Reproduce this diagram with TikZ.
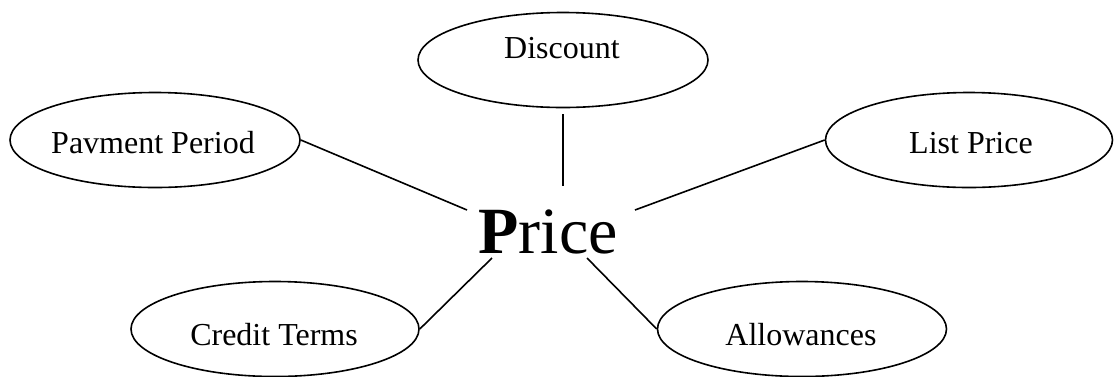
\documentclass[tikz,border=0pt]{standalone}
\usepackage{fontspec}
\setmainfont{Liberation Serif}
\usetikzlibrary{shapes.geometric}
\begin{document}
\begin{tikzpicture}[x=1pt,y=-1pt,
  oval/.style={draw,ellipse,line width=1.6pt,minimum width=290pt,minimum height=95pt,inner sep=0pt},
  lbl/.style={anchor=base,inner sep=0pt,font=\fontsize{32}{36}\selectfont},
  link/.style={line width=1.6pt}]
\useasboundingbox (0,0) rectangle (1114,376);
\node[oval] (disc) at (563,60) {};
\node[oval] (pay) at (155,140) {};
\node[oval,minimum width=287pt] (list) at (969,140) {};
\node[oval,minimum width=288pt] (cred) at (275,329) {};
\node[oval,minimum width=289pt] (allow) at (802,329) {};
\node[lbl] (tdisc) at (562,58) {Discount};
\node[lbl] (tpay) at (153,153) {Pavment Period};
\node[lbl] (tlist) at (971,153) {List Price};
\node[lbl] (tcred) at (274,345) {Credit Terms};
\node[lbl] (tallow) at (801,345) {Allowances};
\node[anchor=base,inner sep=0pt,font=\fontsize{66}{70}\selectfont] (price) at (548,253) {\textbf{P}rice};
\coordinate (cpay) at (467,210);
\coordinate (cdisc) at (563,186);
\coordinate (clist) at (635,210);
\coordinate (ccred) at (492,258);
\coordinate (callow) at (587,258);
\draw[link] (pay.east) -- (cpay);
\draw[link] ([yshift=-6pt]disc.south) -- (cdisc);
\draw[link] (list.west) -- (clist);
\draw[link] (cred.east) -- (ccred);
\draw[link] (allow.west) -- (callow);
\end{tikzpicture}
\end{document}
